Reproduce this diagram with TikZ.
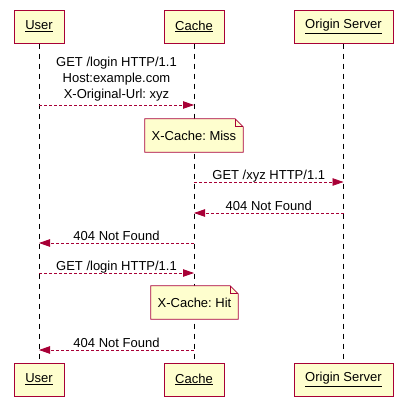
\documentclass[tikz,border=0pt]{standalone}
\usepackage{fontspec}
\setmainfont{Liberation Sans}
\usetikzlibrary{arrows.meta,backgrounds}
\definecolor{umlred}{HTML}{A80036}
\definecolor{umlfill}{HTML}{FEFECE}
\frenchspacing
\tikzset{
  actor/.style={draw=umlred,fill=umlfill,line width=1pt,minimum height=33pt,inner sep=0pt},
  lifeline/.style={dash pattern=on 5pt off 5pt,line width=0.8pt},
  msg/.style={umlred,dash pattern=on 3pt off 2pt,line width=0.8pt,-{Triangle[length=11pt,width=7.5pt]}},
  lbl/.style={text=black,anchor=base,yshift=3pt,inner sep=0pt},
  note/.style={minimum height=33pt,inner sep=0pt},
  notebd/.style={draw=umlred,fill=umlfill,line width=0.8pt},
}
\begin{document}
\begin{tikzpicture}[x=1pt,y=-1pt,font=\fontsize{13}{16}\selectfont]
  \useasboundingbox (0,0) rectangle (410,407);
  % participants, top and bottom
  \node[actor,minimum width=50pt] (user) at (39,26.5) {\underline{User}};
  \node[actor,minimum width=60pt] (cache) at (194,26.5) {\underline{Cache}};
  \node[actor,minimum width=99pt] (origin) at (343.5,26.5) {\underline{Origin Server}};
  \node[actor,minimum width=50pt] (userb) at (39,379.5) {\underline{User}};
  \node[actor,minimum width=60pt] (cacheb) at (194,379.5) {\underline{Cache}};
  \node[actor,minimum width=99pt] (originb) at (343.5,379.5) {\underline{Origin Server}};
  % notes
  \node[note,minimum width=98pt] (miss) at (194,135.5) {X-Cache: Miss};
  \node[note,minimum width=87pt] (hit) at (194.5,302.5) {X-Cache: Hit};
  \begin{pgfonlayer}{background}
    \draw[lifeline] (user) -- (userb);
    \draw[lifeline] (cache) -- (cacheb);
    \draw[lifeline] (origin) -- (originb);
    \foreach \n in {miss,hit} {
      \draw[notebd] (\n.south west) -- (\n.north west) -- ([xshift=-8pt]\n.north east)
        -- ([yshift=-8pt]\n.north east) -- (\n.south east) -- cycle;
      \draw[umlred,line width=0.8pt] ([xshift=-8pt]\n.north east)
        |- ([yshift=-8pt]\n.north east);
    }
  \end{pgfonlayer}
  % messages
  \draw[msg] (user |- 0,105) -- (cache |- 0,105)
    node[lbl,midway,anchor=south,align=center] {GET /login HTTP/1.1\\Host:example.com\\X-Original-Url: xyz};
  \draw[msg] (cache |- 0,182) -- (origin |- 0,182)
    node[lbl,midway] {GET /xyz HTTP/1.1};
  \draw[msg] (origin |- 0,213) -- (cache |- 0,213)
    node[lbl,midway] {404 Not Found};
  \draw[msg] (cache |- 0,243) -- (user |- 0,243)
    node[lbl,midway] {404 Not Found};
  \draw[msg] (user |- 0,273) -- (cache |- 0,273)
    node[lbl,midway] {GET /login HTTP/1.1};
  \draw[msg] (cache |- 0,350) -- (user |- 0,350)
    node[lbl,midway] {404 Not Found};
\end{tikzpicture}
\end{document}
